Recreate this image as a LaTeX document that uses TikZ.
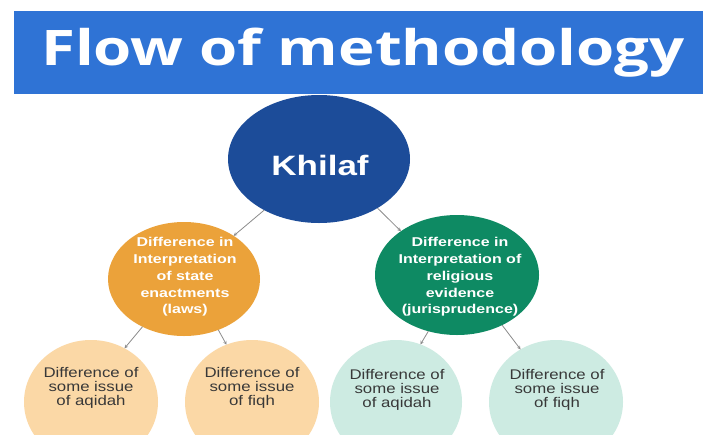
\documentclass[tikz,border=0pt]{standalone}
\usepackage{fontspec}
\usetikzlibrary{arrows.meta,shapes.geometric}
\newfontfamily\titlefont[FakeStretch=1.26]{Open Sans}
\newfontfamily\widebold[FakeStretch=1.25]{Liberation Sans}
\newfontfamily\widereg[FakeStretch=1.2]{Liberation Sans}
\definecolor{bannerblue}{HTML}{2F73D5}
\definecolor{khilafblue}{HTML}{1C4C99}
\definecolor{orangeA}{HTML}{EBA23A}
\definecolor{greenA}{HTML}{0E8A63}
\definecolor{peach}{HTML}{FBD8A6}
\definecolor{mint}{HTML}{CDEBE2}
\definecolor{txtgray}{HTML}{383838}
\definecolor{linegray}{HTML}{8C8C8C}
\tikzset{
  blob/.style={ellipse, inner sep=0pt, outer sep=0pt},
  midtext/.style={text=white, align=center, font=\widebold\bfseries\fontsize{12.8}{16.7}\selectfont},
  lowtext/.style={text=txtgray, align=center, font=\widereg\fontsize{14}{14.2}\selectfont},
  conn/.style={draw=linegray, line width=0.8pt, -{Stealth[length=3.5pt,width=3.5pt]}}
}
\begin{document}
\begin{tikzpicture}[x=1pt,y=-1pt]
\useasboundingbox (0,0) rectangle (703,434);
\clip (0,0) rectangle (703,434);
\fill[white] (0,0) rectangle (703,434);
% banner
\node[fill=bannerblue, minimum width=689pt, minimum height=83pt, inner sep=0pt, anchor=north west] (banner) at (14,11) {};
\node[text=white, anchor=base west, inner sep=0pt, font=\titlefont\bfseries\fontsize{49}{55}\selectfont] (title) at (41,65) {Flow of methodology};
% ellipses
\node[blob, fill=khilafblue, minimum width=182pt, minimum height=128pt] (k) at (319,159) {};
\node[blob, fill=orangeA, minimum width=152pt, minimum height=114pt] (o) at (184,279) {};
\node[blob, fill=greenA, minimum width=164pt, minimum height=120pt] (g) at (457,275) {};
\node[blob, fill=peach, minimum width=134pt, minimum height=124pt] (ol) at (91,402) {};
\node[blob, fill=peach, minimum width=134pt, minimum height=124pt] (or) at (252,402) {};
\node[blob, fill=mint, minimum width=132pt, minimum height=124pt] (gl) at (396,402) {};
\node[blob, fill=mint, minimum width=134pt, minimum height=124pt] (gr) at (556,402) {};
% texts
\node[text=white, font=\widebold\bfseries\fontsize{28}{30}\selectfont] (kt) at (320,165) {Khilaf};
\node[midtext] (ot) at (185,277) {Difference in\\Interpretation\\of state\\enactments\\(laws)};
\node[midtext] (gt) at (460,277) {Difference in\\Interpretation of\\religious\\evidence\\(jurisprudence)};
\node[lowtext] (olt) at (91,388) {Difference of\\some issue\\of aqidah};
\node[lowtext] (ort) at (252,388) {Difference of\\some issue\\of fiqh};
\node[lowtext] (glt) at (397,390) {Difference of\\some issue\\of aqidah};
\node[lowtext] (grt) at (557,390) {Difference of\\some issue\\of fiqh};
% connectors
\draw[conn] (k.-137) -- (o.41);
\draw[conn] (k.-40) -- (g.142);
\draw[conn] (o.-131) -- (ol.58);
\draw[conn] (o.-56) -- (or.114);
\draw[conn] (g.-117) -- (gl.67);
\draw[conn] (g.-48) -- (gr.124);
\end{tikzpicture}
\end{document}
